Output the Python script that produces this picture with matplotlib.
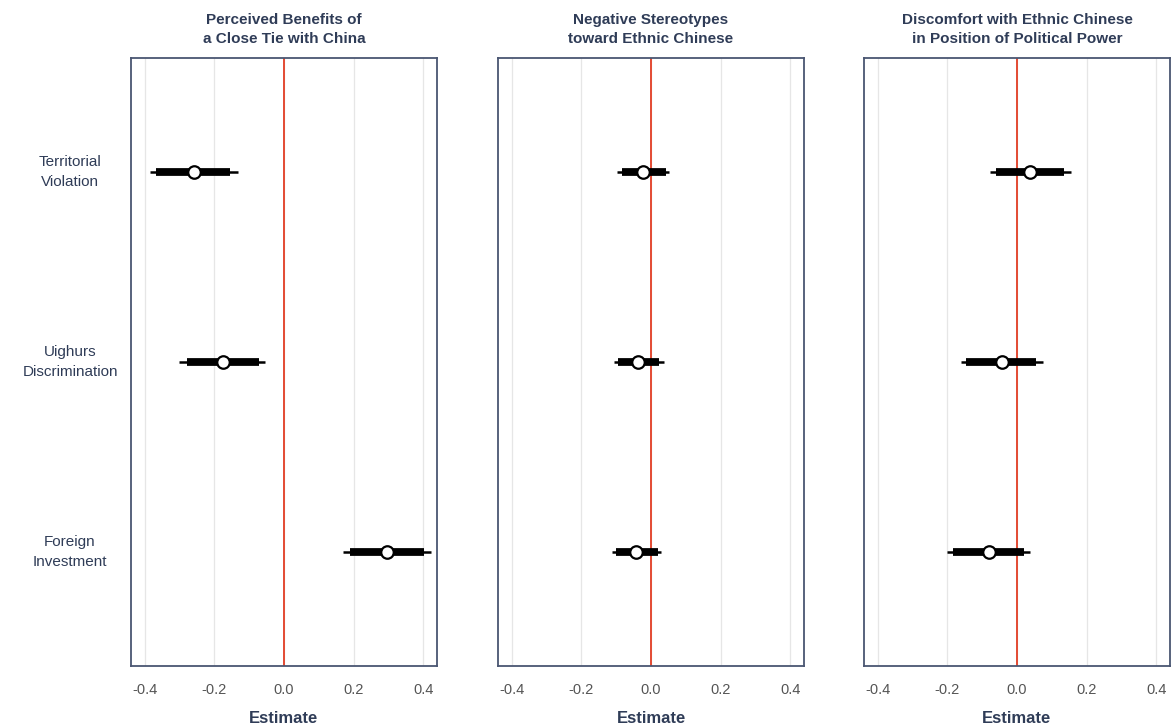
import matplotlib
matplotlib.use("Agg")
import matplotlib.pyplot as plt

plt.rcParams['font.family'] = ['Liberation Sans', 'DejaVu Sans']

titles = ["Perceived Benefits of\na Close Tie with China",
          "Negative Stereotypes\ntoward Ethnic Chinese",
          "Discomfort with Ethnic Chinese\nin Position of Political Power"]
treatments = ["Territorial\nViolation", "Uighurs\nDiscrimination", "Foreign\nInvestment"]

# estimates per panel (rows: Territorial, Uighurs, Foreign)
est = [[-0.259, -0.176, 0.296],
       [-0.022, -0.036, -0.042],
       [0.038, -0.043, -0.080]]
# outer (95%) interval
lo95 = [[-0.386, -0.302, 0.170],
        [-0.097, -0.105, -0.111],
        [-0.077, -0.161, -0.201]]
hi95 = [[-0.132, -0.055, 0.423],
        [0.053, 0.036, 0.030],
        [0.154, 0.075, 0.038]]
# inner (90%) interval
lo90 = [[-0.368, -0.279, 0.190],
        [-0.082, -0.094, -0.100],
        [-0.060, -0.146, -0.184]]
hi90 = [[-0.155, -0.072, 0.403],
        [0.042, 0.022, 0.019],
        [0.134, 0.055, 0.021]]

xticks = [-0.4, -0.2, 0.0, 0.2, 0.4]
xticklabels = ["-0.4", "-0.2", "0.0", "0.2", "0.4"]

W, H = 1171, 728
fig = plt.figure(figsize=(W / 100, H / 100), dpi=100)
lefts = [131, 498, 864]
pw = 306
bottom_px, top_px = 62, 670

navy = '#2f3c57'
frame = '#4a5672'
red = '#e34a33'
ypos = [3, 2, 1]

for p in range(3):
    ax = fig.add_axes([lefts[p] / W, bottom_px / H, pw / W, (top_px - bottom_px) / H])
    ax.set_xlim(-0.44, 0.44)
    ax.set_ylim(0.4, 3.6)
    for xv in xticks:
        ax.axvline(xv, color='#e6e6e6', lw=0.9, zorder=0)
    ax.axvline(0, color=red, lw=1.4, zorder=1)
    for i in range(3):
        y = ypos[i]
        ax.plot([lo95[p][i], hi95[p][i]], [y, y], color='black', lw=1.8,
                solid_capstyle='butt', zorder=2)
        ax.plot([lo90[p][i], hi90[p][i]], [y, y], color='black', lw=5.6,
                solid_capstyle='butt', zorder=3)
        ax.plot([est[p][i]], [y], marker='o', ms=9, mfc='white', mec='black',
                mew=1.6, zorder=4, ls='none')
    ax.set_xticks(xticks)
    ax.set_xticklabels(xticklabels, fontsize=10.5, color='#555555')
    ax.tick_params(axis='x', length=0, pad=12)
    ax.set_yticks([])
    for s in ax.spines.values():
        s.set_color(frame)
        s.set_linewidth(1.3)
    ax.set_title(titles[p], fontsize=11, fontweight='bold', color=navy,
                 pad=11, linespacing=1.4)
    ax.set_xlabel("Estimate", fontsize=12, fontweight='bold', color=navy, labelpad=10)
    if p == 0:
        for i in range(3):
            ax.text((70 - lefts[0]) / pw, ypos[i], treatments[i],
                    transform=ax.get_yaxis_transform(), ha='center', va='center',
                    fontsize=11, color=navy, linespacing=1.5)

fig.savefig("out.png", dpi=100)
